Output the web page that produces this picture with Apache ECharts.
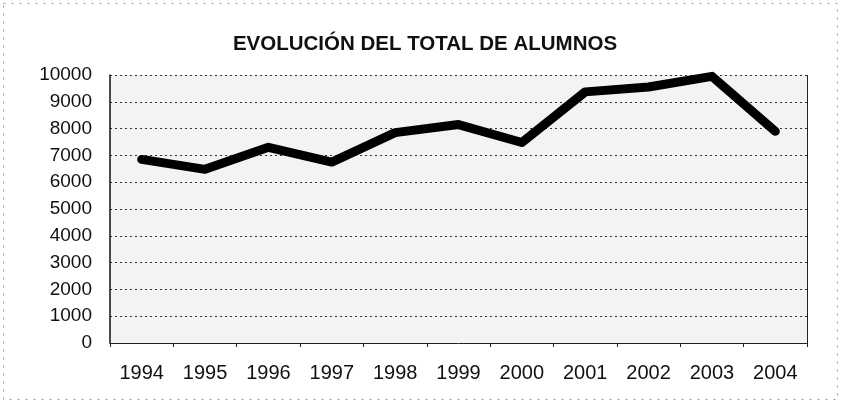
<!DOCTYPE html>
<html>
<head>
<meta charset="utf-8">
<script src="https://cdn.jsdelivr.net/npm/echarts@6/dist/echarts.min.js"></script>
<style>
html,body{margin:0;padding:0;background:#fff;}
#chart{width:841px;height:403px;}
</style>
</head>
<body>
<div id="chart"></div>
<script>
const titleText = 'EVOLUCIÓN DEL TOTAL DE ALUMNOS';
const years = ['1994','1995','1996','1997','1998','1999','2000','2001','2002','2003','2004'];
const alumnos = [6850, 6480, 7300, 6750, 7850, 8150, 7480, 9370, 9550, 9950, 7900];
const yMin = 0, yMax = 10000, yStep = 1000;

const chart = echarts.init(document.getElementById('chart'));
chart.setOption({
  backgroundColor: '#ffffff',
  animation: false,
  title: {
    text: titleText,
    left: 420, top: 29, textAlign: 'center',
    textStyle: {fontFamily: 'Liberation Sans', fontWeight: 'bold', fontSize: 20.5, color: '#111'}
  },
  graphic: [{
    type: 'rect', shape: {x: 3.5, y: 3.5, width: 834, height: 396},
    style: {fill: null, stroke: '#999', lineWidth: 1, lineDash: [2, 6]}, silent: true
  }, {
    type: 'line', shape: {x1: 807.5, y1: 75, x2: 807.5, y2: 343},
    style: {stroke: '#222', lineWidth: 1}, silent: true
  }],
  grid: {left: 110, right: 34, top: 75, bottom: 60, show: true, backgroundColor: '#f3f3f3', borderColor: '#222', borderWidth: 0},
  xAxis: {
    type: 'category', data: years, boundaryGap: true,
    axisLine: {lineStyle: {color: '#222', width: 1}},
    axisTick: {show: true, length: 4, lineStyle: {color: '#222'}},
    axisLabel: {fontFamily: 'Liberation Sans', fontSize: 20, color: '#111', margin: 20}
  },
  yAxis: {
    type: 'value', min: yMin, max: yMax, interval: yStep,
    axisLine: {show: true, lineStyle: {color: '#111', width: 1.5}},
    axisTick: {show: false},
    splitLine: {lineStyle: {color: '#333', type: [2, 3], width: 1}},
    axisLabel: {fontFamily: 'Liberation Sans', fontSize: 19, color: '#111', margin: 18,
      formatter: function (v) { return String(v); }}
  },
  series: [{
    type: 'line', data: alumnos, symbol: 'none',
    lineStyle: {color: '#000', width: 9, cap: 'round', join: 'round'}
  }]
});
</script>
</body>
</html>
